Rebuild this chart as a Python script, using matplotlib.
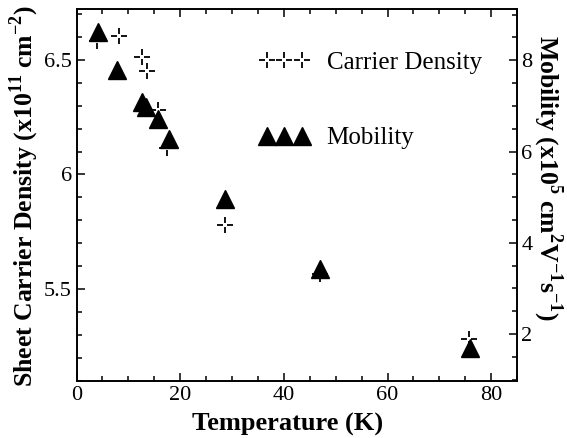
import numpy as np
import matplotlib
matplotlib.use("Agg")
import matplotlib.pyplot as plt
from matplotlib.path import Path
from matplotlib.ticker import MultipleLocator

# carrier density (left axis)
temp_n = [3.9, 8.1, 12.6, 13.6, 15.8, 17.4, 28.6, 47.0, 75.7]
density = [6.58, 6.605, 6.512, 6.449, 6.283, 6.116, 5.78, 5.565, 5.283]
# mobility (right axis)
temp_mu = [4.2, 7.9, 12.6, 13.4, 15.8, 17.9, 28.6, 47.0, 76.0]
mobility = [8.62, 7.78, 7.08, 6.97, 6.72, 6.27, 4.96, 3.42, 1.69]

plt.rcParams["font.family"] = ["Liberation Serif", "DejaVu Serif"]
plt.rcParams["mathtext.fontset"] = "custom"
plt.rcParams["mathtext.rm"] = "Liberation Serif"
plt.rcParams["mathtext.bf"] = "Liberation Serif:bold"

# thin "+" with a hollow centre
g = 0.25
verts = [(-1, 0), (-g, 0), (g, 0), (1, 0), (0, -1), (0, -g), (0, g), (0, 1)]
codes = [Path.MOVETO, Path.LINETO] * 4
cross = Path(verts, codes)

fig = plt.figure(figsize=(5.67, 4.38), dpi=100)
ax = fig.add_axes([0.135, 0.130, 0.777, 0.849])
ax2 = ax.twinx()

l1, = ax.plot(temp_n, density, ls="none", marker=cross, ms=12, mew=1.3,
              mfc="none", mec="black", label="Carrier Density", zorder=3)
l2, = ax2.plot(temp_mu, mobility, ls="none", marker="^", ms=12.5,
               color="black", label="Mobility", zorder=2)

ax.set_xlim(0, 85)
ax.set_ylim(5.10, 6.72)
ax2.set_ylim(0.97, 9.12)

ax.xaxis.set_major_locator(MultipleLocator(20))
ax.xaxis.set_minor_locator(MultipleLocator(5))
ax.yaxis.set_major_locator(MultipleLocator(0.5))
ax.yaxis.set_minor_locator(MultipleLocator(0.1))
ax.yaxis.set_major_formatter(plt.FuncFormatter(lambda v, p: f"{v:g}"))
ax2.yaxis.set_major_locator(MultipleLocator(2))
ax2.yaxis.set_minor_locator(MultipleLocator(0.5))

for a in (ax, ax2):
    for s in a.spines.values():
        s.set_linewidth(1.2)
ax.tick_params(which="both", direction="in", top=True, right=False, labelsize=16, width=1.1)
ax.tick_params(which="major", length=6)
ax.tick_params(which="minor", length=3.5)
ax2.tick_params(which="both", direction="in", labelsize=16, width=1.1, pad=3)
ax2.tick_params(which="major", length=6)
ax2.tick_params(which="minor", length=3.5)

ax.set_xlabel("Temperature (K)", fontsize=19, fontweight="bold", va="top", ha="center")
ax.xaxis.set_label_coords(0.478, -0.086)
ax.set_ylabel(r"Sheet Carrier Density (x10$^{\mathbf{11}}$ cm$^{\mathbf{-2}}$)",
              fontsize=18.5, fontweight="bold", va="center", ha="center",
              rotation_mode="anchor")
ax.yaxis.set_label_coords(-0.118, 0.497)
ax2.set_ylabel(r"Mobility (x10$^{\mathbf{5}}$ cm$^{\mathbf{2}}$V$^{\mathbf{-1}}$s$^{\mathbf{-1}}$)",
               fontsize=18.5, fontweight="bold", rotation=-90, va="center",
               ha="center", rotation_mode="anchor")
ax2.yaxis.set_label_coords(1.07, 0.546)

ax.legend(handles=[l1, l2], loc="upper left", bbox_to_anchor=(0.386, 0.92),
          numpoints=3, frameon=False, fontsize=18, handlelength=2.0,
          handletextpad=0.7, labelspacing=2.12, borderpad=0)

fig.savefig("out.png")
